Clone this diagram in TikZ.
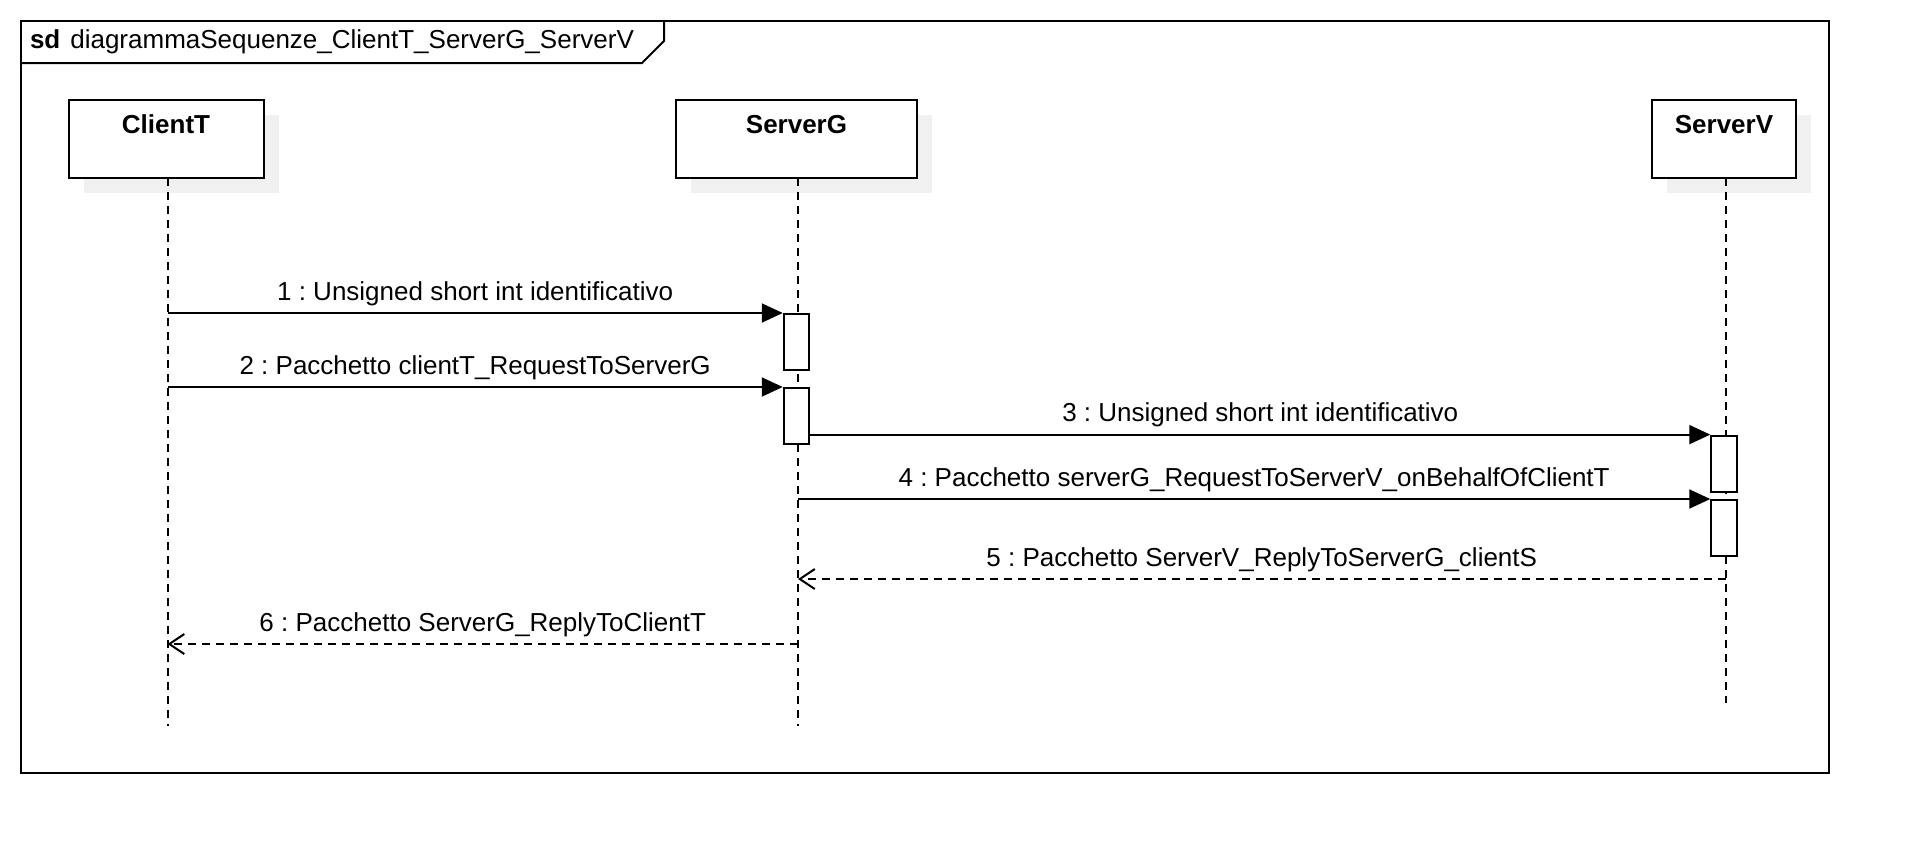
\documentclass[tikz,border=0pt]{standalone}
\usepackage{fontspec}
\setmainfont{Liberation Sans}
\usetikzlibrary{arrows.meta,shadows}
\newcommand{\fs}{\fontsize{26}{30}\selectfont\frenchspacing}
\tikzset{
  head/.style={draw, fill=white, inner sep=0pt, minimum height=78pt, text height=18pt, text depth=30pt,
    font=\fs\bfseries, drop shadow={shadow xshift=15pt, shadow yshift=-15pt, fill=black!6, opacity=1}},
  act/.style={draw, fill=white, inner sep=0pt, minimum width=25.5pt, minimum height=56pt},
  lifeline/.style={dash pattern=on 8pt off 6pt},
  msg/.style={-{Triangle[length=21pt,width=19pt]}},
  ret/.style={dash pattern=on 8pt off 6pt, -{Straight Barb[length=15pt,width=20pt]}},
  lab/.style={anchor=base, yshift=13pt, inner sep=0pt, font=\fs},
}
\begin{document}
\begin{tikzpicture}[x=1pt, y=-1pt, line width=2pt, font=\fs]
\useasboundingbox (0,0) rectangle (1908,852);
\fill[white] (0,0) rectangle (1908,852);

% frame
\node[draw, inner sep=0pt, minimum width=1808pt, minimum height=752pt, anchor=north west] (frame) at (20,20) {};
\coordinate (tabA) at (20,63);
\coordinate (tabB) at (642,63);
\coordinate (tabC) at (664,41);
\coordinate (tabD) at (664,20);
\draw (tabA) -- (tabB) -- (tabC) -- (tabD);
\node[anchor=west, inner sep=0pt] (title) at (29,41.5) {\textbf{sd}\hspace{10pt}diagrammaSequenze\_ClientT\_ServerG\_ServerV};

% heads
\node[head, minimum width=195pt] (ClientT) at (166,139) {ClientT};
\node[head, minimum width=241pt] (ServerG) at (796.5,139) {ServerG};
\node[head, minimum width=144pt] (ServerV) at (1724,139) {ServerV};

% lifelines
\coordinate (topCT) at (167.5,178);
\coordinate (topSG) at (798,178);
\coordinate (topSV) at (1725.5,178);
\coordinate (endCT) at (167.5,726);
\coordinate (endSG) at (798,726);
\coordinate (endSV) at (1725.5,703);
\draw[lifeline] (topCT) -- (endCT);
\draw[lifeline] (topSG) -- (endSG);
\draw[lifeline] (topSV) -- (endSV);

% activations
\node[act] (act1) at (796.5,342) {};
\node[act] (act2) at (796.5,416) {};
\node[act] (act3) at (1724,463.6) {};
\node[act] (act4) at (1724,528) {};

% return levels
\coordinate (y5) at (0,579);
\coordinate (y6) at (0,644);

% messages
\draw[msg] (topCT |- act1.north west) -- node[lab, midway] {1 : Unsigned short int identificativo} (act1.north west);
\draw[msg] (topCT |- act2.north west) -- node[lab, midway] {2 : Pacchetto clientT\_RequestToServerG} (act2.north west);
\draw[msg] (act2.east |- act3.north west) -- node[lab, midway] {3 : Unsigned short int identificativo} (act3.north west);
\draw[msg] (topSG |- act4.north west) -- node[lab, midway] {4 : Pacchetto serverG\_RequestToServerV\_onBehalfOfClientT} (act4.north west);
\draw[ret] (topSV |- y5) -- node[lab, midway] {5 : Pacchetto ServerV\_ReplyToServerG\_clientS} (topSG |- y5);
\draw[ret] (topSG |- y6) -- node[lab, midway] {6 : Pacchetto ServerG\_ReplyToClientT} (topCT |- y6);
\end{tikzpicture}
\end{document}
